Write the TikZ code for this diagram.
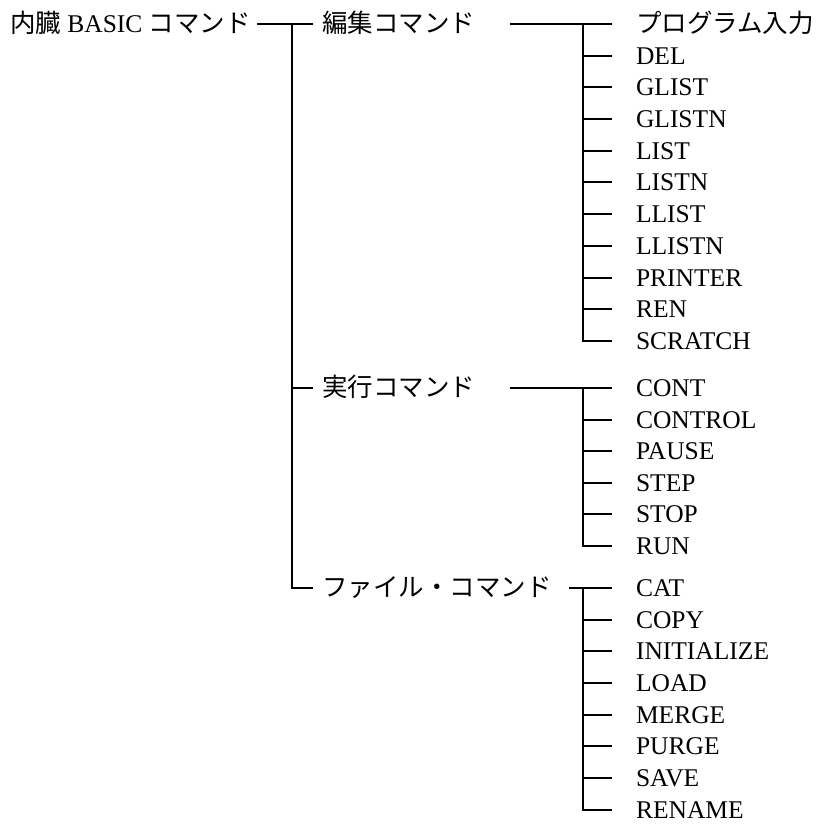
\documentclass[tikz,border=0pt]{standalone}
\usepackage{fontspec}
\setmainfont{Liberation Serif}
\newfontfamily\jp{Noto Sans CJK JP}
\begin{document}
\begin{tikzpicture}[x=1bp,y=1bp,
  lbl/.style={anchor=west,inner sep=0pt,outer sep=0pt,text height=19bp,text depth=2bp,
    font=\fontsize{25.5bp}{30bp}\selectfont},
  conn/.style={line width=1.8bp,line cap=butt}]
\useasboundingbox (0,0) rectangle (821,-825);
% level 0 and 1
\node[lbl] (root) at (10,-24) {{\jp 内臓} BASIC {\jp コマンド}};
\node[lbl] (edit) at (322,-24) {\jp 編集コマンド};
\node[lbl] (exec) at (322,-388) {\jp 実行コマンド};
\node[lbl] (file) at (322,-588) {\jp ファイル・コマンド};
\coordinate (trunk) at (292,-24);
\coordinate (j) at (583,0);
\coordinate (e1) at (510,-24);
\coordinate (e2) at (510,-388);
\coordinate (e3) at (569,-588);
% children
\foreach \t [count=\i] in {{\jp プログラム入力},DEL,GLIST,GLISTN,LIST,LISTN,LLIST,LLISTN,PRINTER,REN,SCRATCH}
  \node[lbl] (a\i) at (636,{-round(24+31.7*(\i-1))}) {\t};
\foreach \t [count=\i] in {CONT,CONTROL,PAUSE,STEP,STOP,RUN}
  \node[lbl] (b\i) at (636,{-round(388+31.5*(\i-1))}) {\t};
\foreach \t [count=\i] in {CAT,COPY,INITIALIZE,LOAD,MERGE,PURGE,SAVE,RENAME}
  \node[lbl] (c\i) at (636,{-round(588+31.7*(\i-1))}) {\t};
% trunk
\draw[conn] ([xshift=6bp]root.east) -- ([xshift=-9bp]edit.west);
\draw[conn] (trunk) |- ([xshift=-9bp]file.west);
\draw[conn] (trunk |- exec.west) -- ([xshift=-9bp]exec.west);
% group 1
\draw[conn] (e1) -- ([xshift=-24bp]a1.west);
\draw[conn] (j |- a1.west) |- ([xshift=-24bp]a11.west);
\foreach \i in {2,...,10} \draw[conn] (j |- a\i.west) -- ([xshift=-24bp]a\i.west);
% group 2
\draw[conn] (e2) -- ([xshift=-24bp]b1.west);
\draw[conn] (j |- b1.west) |- ([xshift=-24bp]b6.west);
\foreach \i in {2,...,5} \draw[conn] (j |- b\i.west) -- ([xshift=-24bp]b\i.west);
% group 3
\draw[conn] (e3) -- ([xshift=-24bp]c1.west);
\draw[conn] (j |- c1.west) |- ([xshift=-24bp]c8.west);
\foreach \i in {2,...,7} \draw[conn] (j |- c\i.west) -- ([xshift=-24bp]c\i.west);
\end{tikzpicture}
\end{document}
